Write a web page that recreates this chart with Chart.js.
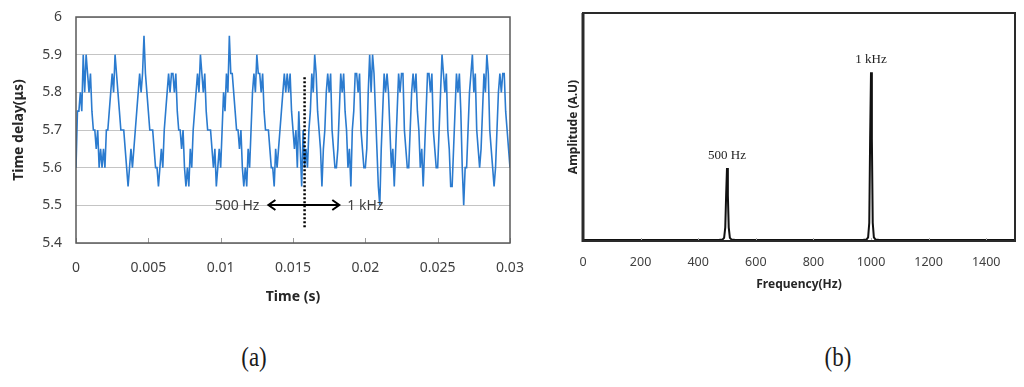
<!DOCTYPE html>
<html lang="en">
<head>
<meta charset="UTF-8">
<title>Time delay and spectrum</title>
<script src="https://cdn.jsdelivr.net/npm/chart.js"></script>
<style>
  body { margin: 0; background: #ffffff; width: 1024px; height: 387px; position: relative; overflow: hidden; }
  #chartA { position: absolute; left: 0; top: 0; }
  #chartB { position: absolute; left: 540px; top: 0; }
  .panel-label {
    position: absolute;
    font-family: "Liberation Serif", serif;
    font-size: 27px;
    color: #1a1a1a;
    transform: translate(-50%, -50%) scaleX(0.85);
  }
</style>
</head>
<body>
<canvas id="chartA" width="530" height="320"></canvas>
<canvas id="chartB" width="484" height="320"></canvas>
<div class="panel-label" style="left:254px; top:357px">(a)</div>
<div class="panel-label" style="left:838px; top:357px">(b)</div>

<script>
// (a) time delay, one sample every 0.1 ms from 0 to 0.03 s
const SAMPLE_STEP = 0.0001;
const timeDelay = [
  5.60, 5.75, 5.75, 5.80, 5.75, 5.90, 5.80, 5.90, 5.85, 5.80,
  5.85, 5.75, 5.70, 5.70, 5.65, 5.70, 5.60, 5.65, 5.60, 5.65,
  5.60, 5.70, 5.70, 5.75, 5.80, 5.85, 5.80, 5.90, 5.85, 5.80,
  5.75, 5.70, 5.70, 5.70, 5.65, 5.60, 5.55, 5.60, 5.65, 5.60,
  5.65, 5.70, 5.75, 5.80, 5.85, 5.80, 5.85, 5.95, 5.85, 5.80,
  5.75, 5.70, 5.70, 5.70, 5.65, 5.60, 5.60, 5.55, 5.60, 5.65,
  5.60, 5.70, 5.75, 5.80, 5.85, 5.80, 5.85, 5.85, 5.80, 5.85,
  5.75, 5.70, 5.70, 5.65, 5.70, 5.60, 5.55, 5.60, 5.55, 5.65,
  5.60, 5.70, 5.75, 5.80, 5.85, 5.80, 5.90, 5.85, 5.80, 5.85,
  5.75, 5.70, 5.70, 5.70, 5.65, 5.60, 5.65, 5.55, 5.60, 5.65,
  5.60, 5.70, 5.80, 5.75, 5.85, 5.80, 5.95, 5.85, 5.85, 5.80,
  5.75, 5.70, 5.70, 5.65, 5.70, 5.60, 5.55, 5.60, 5.55, 5.65,
  5.60, 5.70, 5.80, 5.85, 5.80, 5.90, 5.85, 5.85, 5.80, 5.85,
  5.75, 5.70, 5.70, 5.70, 5.65, 5.60, 5.60, 5.55, 5.65, 5.60,
  5.65, 5.70, 5.75, 5.80, 5.85, 5.80, 5.85, 5.80, 5.85, 5.75,
  5.70, 5.65, 5.70, 5.60, 5.75, 5.65, 5.55, 5.70, 5.60, 5.65,
  5.60, 5.70, 5.75, 5.85, 5.80, 5.90, 5.85, 5.75, 5.70, 5.65,
  5.55, 5.65, 5.70, 5.80, 5.85, 5.80, 5.85, 5.70, 5.65, 5.60,
  5.60, 5.65, 5.75, 5.85, 5.80, 5.85, 5.75, 5.70, 5.60, 5.65,
  5.55, 5.70, 5.75, 5.85, 5.85, 5.80, 5.85, 5.70, 5.65, 5.60,
  5.60, 5.65, 5.80, 5.90, 5.80, 5.90, 5.85, 5.75, 5.65, 5.55,
  5.50, 5.65, 5.75, 5.85, 5.80, 5.85, 5.80, 5.70, 5.60, 5.65,
  5.55, 5.65, 5.75, 5.85, 5.80, 5.85, 5.85, 5.70, 5.65, 5.60,
  5.60, 5.70, 5.80, 5.85, 5.80, 5.85, 5.75, 5.70, 5.60, 5.65,
  5.55, 5.65, 5.75, 5.85, 5.85, 5.80, 5.85, 5.70, 5.65, 5.60,
  5.60, 5.70, 5.80, 5.90, 5.85, 5.80, 5.85, 5.70, 5.65, 5.55,
  5.55, 5.65, 5.75, 5.85, 5.80, 5.85, 5.75, 5.60, 5.50, 5.60,
  5.60, 5.70, 5.80, 5.85, 5.90, 5.80, 5.85, 5.70, 5.65, 5.60,
  5.65, 5.75, 5.85, 5.80, 5.90, 5.85, 5.70, 5.65, 5.60, 5.55,
  5.60, 5.70, 5.80, 5.85, 5.80, 5.85, 5.85, 5.75, 5.70, 5.65,
  5.60
];
const sampleTimes = timeDelay.map((_, i) => i * SAMPLE_STEP);
const timeTicks = [0, 0.005, 0.01, 0.015, 0.02, 0.025, 0.03];
const delayTicks = [5.4, 5.5, 5.6, 5.7, 5.8, 5.9, 6];

// where the drive switches from 500 Hz to 1 kHz
const switchTime = 0.0158;
const switchSpan = [5.44, 5.84];
const arrowSpan = [0.0133, 0.0182];
const arrowLevel = 5.5;
const regionLabels = ['500 Hz', '1 kHz'];

// (b) spectrum
const specFreq = [0, 470, 485, 490, 494, 497, 500, 503, 506, 510, 515, 530,
                  970, 985, 990, 994, 997, 1000, 1003, 1006, 1010, 1015, 1030, 1500];
const specAmp  = [0.004, 0.004, 0.007, 0.014, 0.06, 0.2, 0.32, 0.2, 0.06, 0.014, 0.007, 0.004,
                  0.004, 0.007, 0.016, 0.08, 0.45, 0.74, 0.45, 0.08, 0.016, 0.007, 0.004, 0.004];
const freqTicks = [0, 200, 400, 600, 800, 1000, 1200, 1400];
const peakFreqs = [500, 1000];
const peakLabels = ['500 Hz', '1 kHz'];

const sans = 'Noto Sans';

// keep the plot box where the layout padding puts it
function noOverflow(s) {
  s.paddingLeft = 0;
  s.paddingRight = 0;
  s.paddingTop = 0;
  s.paddingBottom = 0;
}

const decorA = {
  id: 'decorA',
  afterDatasetsDraw(chart) {
    const { ctx, chartArea: a, scales: { x, y } } = chart;
    ctx.save();
    // small inside ticks on the time axis
    ctx.strokeStyle = '#9a9a9a';
    ctx.lineWidth = 1;
    timeTicks.forEach(t => {
      const px = Math.round(x.getPixelForValue(t)) + 0.5;
      ctx.beginPath();
      ctx.moveTo(px, a.bottom);
      ctx.lineTo(px, a.bottom - 5);
      ctx.stroke();
    });
    // dotted divider
    const dx = x.getPixelForValue(switchTime);
    ctx.strokeStyle = '#000';
    ctx.lineWidth = 2.5;
    ctx.setLineDash([2, 2]);
    ctx.beginPath();
    ctx.moveTo(dx, y.getPixelForValue(switchSpan[1]));
    ctx.lineTo(dx, y.getPixelForValue(switchSpan[0]));
    ctx.stroke();
    ctx.setLineDash([]);
    // double arrow
    const ay = Math.round(y.getPixelForValue(arrowLevel));
    const x1 = x.getPixelForValue(arrowSpan[0]);
    const x2 = x.getPixelForValue(arrowSpan[1]);
    ctx.lineWidth = 2;
    ctx.beginPath();
    ctx.moveTo(x1 + 1, ay);
    ctx.lineTo(x2 - 1, ay);
    ctx.moveTo(x1 + 7, ay - 5);
    ctx.lineTo(x1, ay);
    ctx.lineTo(x1 + 7, ay + 5);
    ctx.moveTo(x2 - 7, ay - 5);
    ctx.lineTo(x2, ay);
    ctx.lineTo(x2 - 7, ay + 5);
    ctx.stroke();
    ctx.fillStyle = '#404040';
    ctx.font = '14px "' + sans + '"';
    ctx.textBaseline = 'middle';
    ctx.textAlign = 'right';
    ctx.fillText(regionLabels[0], x1 - 9, ay + 1);
    ctx.textAlign = 'left';
    ctx.fillText(regionLabels[1], x2 + 8, ay + 1);
    // plot frame
    ctx.strokeStyle = '#5a5a5a';
    ctx.lineWidth = 1.5;
    ctx.strokeRect(a.left, a.top, a.width, a.height);
    ctx.restore();
  }
};

const decorB = {
  id: 'decorB',
  afterDatasetsDraw(chart) {
    const { ctx, chartArea: a, scales: { x, y } } = chart;
    ctx.save();
    ctx.strokeStyle = '#b0b0b0';
    ctx.lineWidth = 1;
    freqTicks.forEach(f => {
      const px = Math.round(x.getPixelForValue(f)) + 0.5;
      ctx.beginPath();
      ctx.moveTo(px, a.bottom);
      ctx.lineTo(px, a.bottom - 3);
      ctx.stroke();
    });
    ctx.strokeStyle = '#2a2a2a';
    ctx.lineWidth = 2;
    ctx.strokeRect(a.left, a.top, a.width, a.height);
    ctx.lineWidth = 3;
    ctx.beginPath();
    ctx.moveTo(a.left, a.top);
    ctx.lineTo(a.left, a.bottom + 1);
    ctx.stroke();
    // peak labels
    ctx.fillStyle = '#222';
    ctx.font = '13px "Liberation Serif"';
    ctx.textAlign = 'center';
    ctx.textBaseline = 'bottom';
    peakFreqs.forEach((f, i) => {
      const amp = specAmp[specFreq.indexOf(f)];
      ctx.fillText(peakLabels[i], x.getPixelForValue(f), y.getPixelForValue(amp) - 6);
    });
    ctx.restore();
  }
};

new Chart(document.getElementById('chartA'), {
  type: 'line',
  data: {
    datasets: [{
      data: timeDelay.map((v, i) => ({ x: sampleTimes[i], y: v })),
      borderColor: '#2b7bcf',
      borderWidth: 1.6,
      pointRadius: 0,
      tension: 0,
      fill: false
    }]
  },
  options: {
    responsive: false,
    animation: false,
    events: [],
    layout: { padding: { top: 17, right: 20, left: 0, bottom: 0 } },
    plugins: { legend: { display: false }, tooltip: { enabled: false } },
    scales: {
      x: {
        type: 'linear',
        min: 0,
        max: 0.03,
        afterFit: s => { s.height = 77; noOverflow(s); },
        afterBuildTicks: s => { s.ticks = timeTicks.map(v => ({ value: v })); },
        grid: { display: false },
        border: { display: false },
        ticks: { padding: 9, color: '#404040', maxRotation: 0, font: { family: sans, size: 14 }, callback: v => String(v) },
        title: { display: true, text: 'Time (s)', color: '#262626', font: { family: sans, size: 14, weight: 'bold' }, padding: { top: 0, bottom: 15 } }
      },
      y: {
        min: 5.4,
        max: 6,
        afterFit: s => { s.width = 76; noOverflow(s); },
        afterBuildTicks: s => { s.ticks = delayTicks.map(v => ({ value: v })); },
        grid: { color: '#c4c4c4', lineWidth: 1, drawTicks: false },
        border: { display: false },
        ticks: { padding: 14, color: '#404040', font: { family: sans, size: 14 }, callback: v => String(v) },
        title: { display: true, text: 'Time delay(μs)', color: '#262626', font: { family: sans, size: 14, weight: 'bold' }, padding: { top: 11, bottom: 0 } }
      }
    }
  },
  plugins: [decorA]
});

new Chart(document.getElementById('chartB'), {
  type: 'line',
  data: {
    datasets: [{
      data: specFreq.map((f, i) => ({ x: f, y: specAmp[i] })),
      borderColor: '#111111',
      borderWidth: 2,
      pointRadius: 0,
      tension: 0,
      fill: false
    }]
  },
  options: {
    responsive: false,
    animation: false,
    events: [],
    layout: { padding: { top: 13, right: 9, left: 0, bottom: 0 } },
    plugins: { legend: { display: false }, tooltip: { enabled: false } },
    scales: {
      x: {
        type: 'linear',
        min: 0,
        max: 1500,
        afterFit: s => { s.height = 79; noOverflow(s); },
        afterBuildTicks: s => { s.ticks = freqTicks.map(v => ({ value: v })); },
        grid: { display: false },
        border: { display: false },
        ticks: { padding: 6, color: '#404040', maxRotation: 0, font: { family: sans, size: 12.5 }, callback: v => String(v) },
        title: { display: true, text: 'Frequency(Hz)', color: '#262626', font: { family: sans, size: 12, weight: 'bold' }, padding: { top: 0, bottom: 28 } }
      },
      y: {
        min: 0,
        max: 1,
        afterFit: s => { s.width = 43; noOverflow(s); },
        grid: { display: false },
        border: { display: false },
        ticks: { display: false },
        title: { display: true, text: 'Amplitude (A.U)', color: '#262626', font: { family: sans, size: 12, weight: 'bold' }, padding: { top: 26, bottom: 0 } }
      }
    }
  },
  plugins: [decorB]
});
</script>
</body>
</html>
